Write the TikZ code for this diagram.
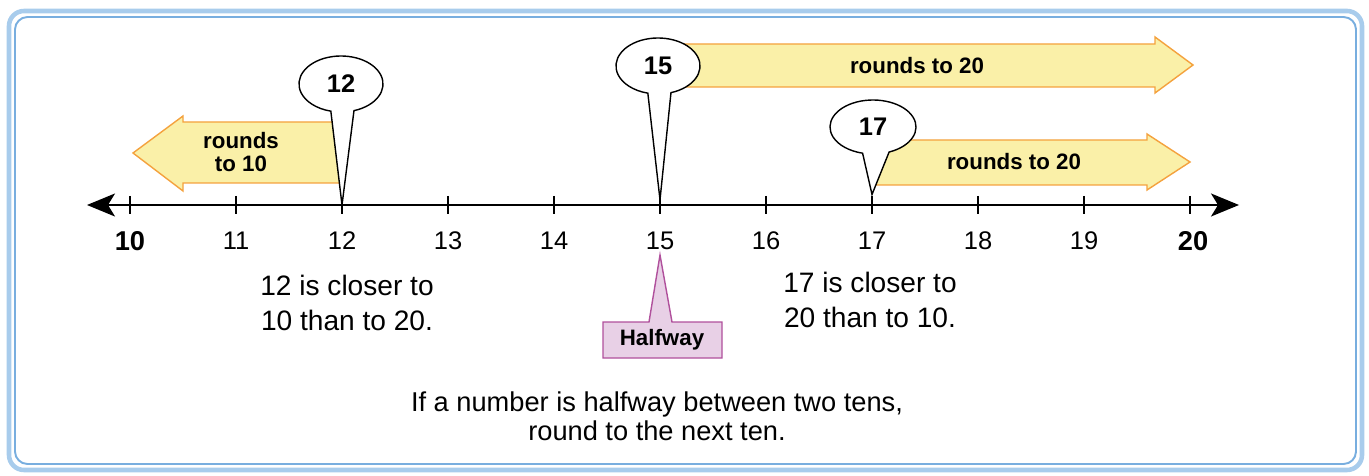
\documentclass[tikz,border=0pt]{standalone}
\usepackage{fontspec}
\setmainfont{Liberation Sans}
\usetikzlibrary{arrows.meta}
\definecolor{frameblue}{HTML}{78AEDF}
\definecolor{framelight}{HTML}{A8CCEC}
\definecolor{roundfill}{HTML}{FAF0A8}
\definecolor{roundline}{HTML}{F4A23E}
\definecolor{halffill}{HTML}{E8D0E6}
\definecolor{halfline}{HTML}{B0509C}

\begin{document}
\begin{tikzpicture}[x=0.02cm,y=0.02cm,
  numline/.style={line width=1.1pt},
  tickmark/.style={line width=1pt},
  fatarrow/.style={fill=roundfill,draw=roundline,line width=0.8pt},
  balloon/.style={fill=white,draw=black,line width=0.8pt},
  halfbox/.style={fill=halffill,draw=halfline,line width=0.8pt},
  ticklbl/.style={font=\fontsize{14.5}{16}\selectfont},
  endlbl/.style={font=\fontsize{15.5}{17}\selectfont\bfseries},
  numlbl/.style={font=\fontsize{14.5}{16}\selectfont\bfseries},
  arrowtxt/.style={font=\fontsize{12.7}{13.5}\selectfont\bfseries,align=center},
  note/.style={font=\fontsize{16}{20.4}\selectfont,align=center}]
\useasboundingbox (0,0) rectangle (1369,-476);

\draw [framelight,line width=2.6pt,rounded corners=0.3cm] (9,-11) rectangle (1362,-470);
\draw [frameblue,line width=1.1pt,rounded corners=0.25cm] (15,-17) rectangle (1356,-464);

\coordinate (la) at (87,-205);
\coordinate (ra) at (1239,-205);
\foreach \n in {10,...,20}
  \coordinate (t\n) at ({130+(\n-10)*106},-205);
\draw [numline,{Stealth[length=0.56cm,width=0.46cm,inset=0.14cm]}-{Stealth[length=0.56cm,width=0.46cm,inset=0.14cm]}] (la) -- (ra);
\foreach \n in {10,...,20}
  \draw [tickmark] (t\n) ++(0,9) -- ++(0,-18);
\foreach \n in {11,...,19}
  \node [ticklbl] (l\n) at ({130+(\n-10)*106},-241) {\n};
\node [endlbl] (l10) at (130,-241) {10};
\node [endlbl] (l20) at (1193,-241) {20};

\draw [fatarrow] (340,-122) -- (183,-122) -- (183,-116) -- (133,-153) -- (183,-191) -- (183,-183) -- (340,-183) -- cycle;
\node [arrowtxt] (r10) at (241,-152) {rounds\\to 10};
\draw [fatarrow] (670,-44) -- (1155,-44) -- (1155,-37) -- (1193,-65) -- (1155,-93) -- (1155,-87) -- (670,-87) -- cycle;
\node [arrowtxt] (r20a) at (917,-66) {rounds to 20};
\draw [fatarrow] (873,-140) -- (1147,-140) -- (1147,-134) -- (1190,-162) -- (1147,-190) -- (1147,-185) -- (873,-185) -- cycle;
\node [arrowtxt] (r20b) at (1014,-162) {rounds to 20};

\coordinate (c12) at (341,-84);
\draw [balloon] (c12) ++(-72:42 and 28) arc [start angle=-72,end angle=256,x radius=42,y radius=28] -- (t12) -- cycle;
\node [numlbl] (b12) at (c12) {12};
\coordinate (c15) at (658,-66);
\draw [balloon] (c15) ++(-72:42 and 28) arc [start angle=-72,end angle=256,x radius=42,y radius=28] -- ([yshift=3]t15) -- cycle;
\node [numlbl] (b15) at (c15) {15};
\coordinate (c17) at (873,-127);
\draw [balloon] (c17) ++(-68:43 and 27) arc [start angle=-68,end angle=256,x radius=43,y radius=27] -- ([yshift=6]t17) -- cycle;
\node [numlbl] (b17) at (c17) {17};

\coordinate (hp) at (660,-255);
\draw [halfbox] (hp) -- (672,-322) -- (722,-322) -- (722,-358) -- (603,-358) -- (603,-322) -- (649,-322) -- cycle;
\node [arrowtxt] (half) at (662,-340) {Halfway};

\node [note] (n12) at (347,-303) {12 is closer to\\10 than to 20.};
\node [note] (n17) at (870,-300) {17 is closer to\\20 than to 10.};
\node [note,font=\fontsize{15.5}{16.6}\selectfont] (nhalf) at (657,-416) {If a number is halfway between two tens,\\round to the next ten.};
\end{tikzpicture}
\end{document}
